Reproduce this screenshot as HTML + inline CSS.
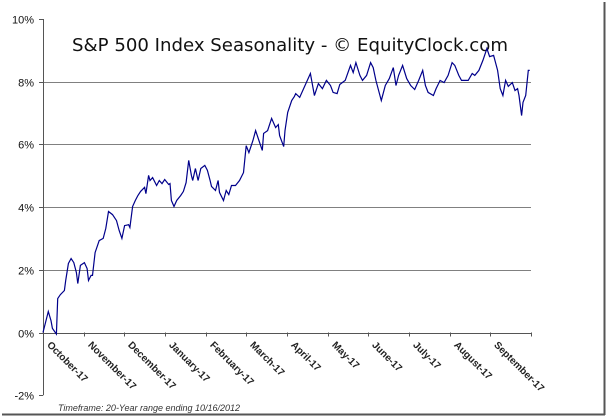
<!DOCTYPE html>
<html><head><meta charset="utf-8"><style>
body{margin:0;background:#fff;}
svg{display:block;font-family:"Liberation Sans",Arial,sans-serif;}
</style></head><body>
<svg id="chart" width="609" height="418">
<rect x="0" y="0" width="604" height="414" fill="#fff"/>
<line x1="604.5" y1="2" x2="604.5" y2="415" stroke="#555" stroke-width="2"/>
<line x1="2" y1="414.5" x2="605" y2="414.5" stroke="#555" stroke-width="2"/>
<g id="grid"></g>
<g id="axes"></g>
<text x="290" y="51" font-size="18" text-anchor="middle" fill="#111" textLength="436" lengthAdjust="spacingAndGlyphs" style="font-family:'DejaVu Sans',sans-serif">S&amp;P 500 Index Seasonality - © EquityClock.com</text>
<text x="58" y="411" font-size="9" font-style="italic" fill="#333">Timeframe: 20-Year range ending 10/16/2012</text>
<path id="line" fill="none" stroke="#00008b" stroke-width="1.2"/>
</svg>
<script>
const yTicks=[-2,0,2,4,6,8,10];
const months=["October-17","November-17","December-17","January-17","February-17","March-17","April-17","May-17","June-17","July-17","August-17","September-17"];
const days=[0,4,6,7,10,11,13,16,17,19,21,23,25,26,28,31,33,34,36,37,39,42,45,47,49,52,55,57,59,61,64,65,67,69,71,73,76,77,79,80,82,85,87,89,91,94,95,96,98,100,103,105,107,109,111,112,114,116,118,121,123,125,126,129,131,132,135,137,139,141,144,147,150,152,154,157,159,162,164,165,168,171,174,176,177,180,181,183,186,188,189,192,200,203,206,209,212,215,217,220,222,226,230,232,234,237,239,242,245,247,249,251,253,256,259,262,264,266,269,272,275,278,281,284,286,288,292,294,297,300,303,306,308,311,313,318,321,323,326,329,332,334,337,340,342,344,346,348,351,353,355,356,358,359,361,363,364];
const values=[0,0.67,0.38,0.13,-0.05,1.08,1.21,1.34,1.66,2.2,2.36,2.23,1.91,1.56,2.14,2.23,2.04,1.66,1.82,1.82,2.55,2.93,3.0,3.32,3.86,3.76,3.57,3.25,3.0,3.41,3.44,3.35,4.02,4.21,4.37,4.5,4.63,4.43,5.01,4.85,4.94,4.69,4.85,4.75,4.88,4.72,4.75,4.21,4.02,4.21,4.37,4.5,4.78,5.49,5.01,4.85,5.23,4.85,5.23,5.33,5.17,4.85,4.66,4.53,4.85,4.47,4.21,4.53,4.4,4.69,4.69,4.85,5.1,5.96,5.74,6.12,6.44,6.06,5.81,6.35,6.44,6.83,6.54,6.63,6.28,5.93,6.44,7.02,7.4,7.53,7.62,7.5,8.26,7.56,7.94,7.78,8.04,7.88,7.66,7.62,7.91,8.04,8.52,8.29,8.61,8.2,8.04,8.2,8.61,8.45,8.04,7.72,7.4,7.88,8.1,8.45,7.88,8.2,8.52,8.1,7.88,7.75,8.04,8.36,7.88,7.66,7.56,7.78,8.04,7.97,8.2,8.61,8.52,8.2,8.04,8.04,8.26,8.2,8.36,8.68,9.06,8.8,8.84,8.36,7.78,7.56,8.04,7.85,7.97,7.72,7.78,7.56,6.92,7.34,7.56,8.36,8.36];
const X0=43,X1=531,Y0=332.5,PER=31.35;
const xScale=d=>X0+d*(X1-X0)/365;
const yScale=v=>Y0-v*PER;
const NS="http://www.w3.org/2000/svg";
const grid=document.getElementById('grid'),axes=document.getElementById('axes');
function mk(tag,attrs,parent){const e=document.createElementNS(NS,tag);for(const k in attrs)e.setAttribute(k,attrs[k]);parent.appendChild(e);return e;}
yTicks.forEach(t=>{
  const y=Math.round(yScale(t))+0.5;
  if(t!==0&&t!==-2&&t!==10){const g=mk('line',{x1:X0,x2:X1,y1:y,y2:y,stroke:'#808080','stroke-width':1},grid);
  
  }
  const tk=mk('line',{x1:X0-4,x2:X0,y1:y,y2:y,stroke:'#555'},axes);
  
  
  const lb=mk('text',{x:34,y:y+4,'font-size':11,'text-anchor':'end',fill:'#111'},axes);
  lb.textContent=t+'%';
  
  
});
const ya=mk('line',{x1:X0+0.5,x2:X0+0.5,y1:yScale(10),y2:yScale(-2),stroke:'#555'},axes);


const xa=mk('line',{x1:X0,x2:X1,y1:Math.round(Y0)+0.5,y2:Math.round(Y0)+0.5,stroke:'#555'},axes);


for(let i=0;i<=months.length;i++){
  const x=Math.round(X0+i*(X1-X0)/months.length)+0.5;
  const tk=mk('line',{x1:x,x2:x,y1:Y0,y2:Y0+4,stroke:'#555'},axes);
  
  
  if(i<months.length){
    const lb=mk('text',{x:0,y:0,'font-size':10,'font-weight':'bold',fill:'#222',transform:`translate(${x+3},${Y0+13}) rotate(45)`},axes);
    lb.textContent=months[i];
    
    
  }
}
document.getElementById('line').setAttribute('d',days.map((d,i)=>(i?'L':'M')+xScale(d).toFixed(1)+','+yScale(values[i]).toFixed(1)).join(''));
</script>
</body></html>
